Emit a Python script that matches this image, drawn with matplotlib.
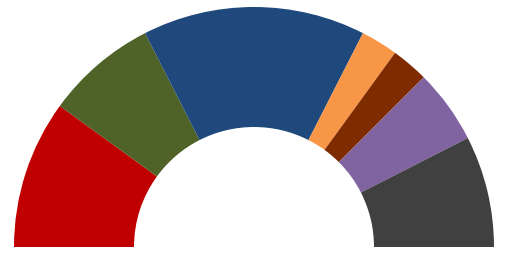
import matplotlib
matplotlib.use("Agg")
import matplotlib.pyplot as plt

parties = ["A", "B", "C", "D", "E", "F", "G"]
seats = [20, 15, 30, 5, 5, 10, 15]
colors = ["#C00000", "#4F6228", "#1F497D", "#F79646", "#7F2B00", "#8064A2", "#404040"]

fig = plt.figure(figsize=(5.08, 2.57), dpi=100)
ax = fig.add_axes([0, 0, 1, 1])
total = sum(seats)
values = seats + [total]
cols = colors + ["none"]
wedges, _ = ax.pie(values, colors=cols, radius=240, startangle=180, counterclock=False,
                   wedgeprops=dict(width=120, linewidth=0, antialiased=True))
wedges[-1].set_visible(False)
ax.set_xlim(-254, 254)
ax.set_ylim(-10, 247)
ax.set_aspect("equal")
ax.axis("off")
fig.savefig("out.png", dpi=100, facecolor="white")
